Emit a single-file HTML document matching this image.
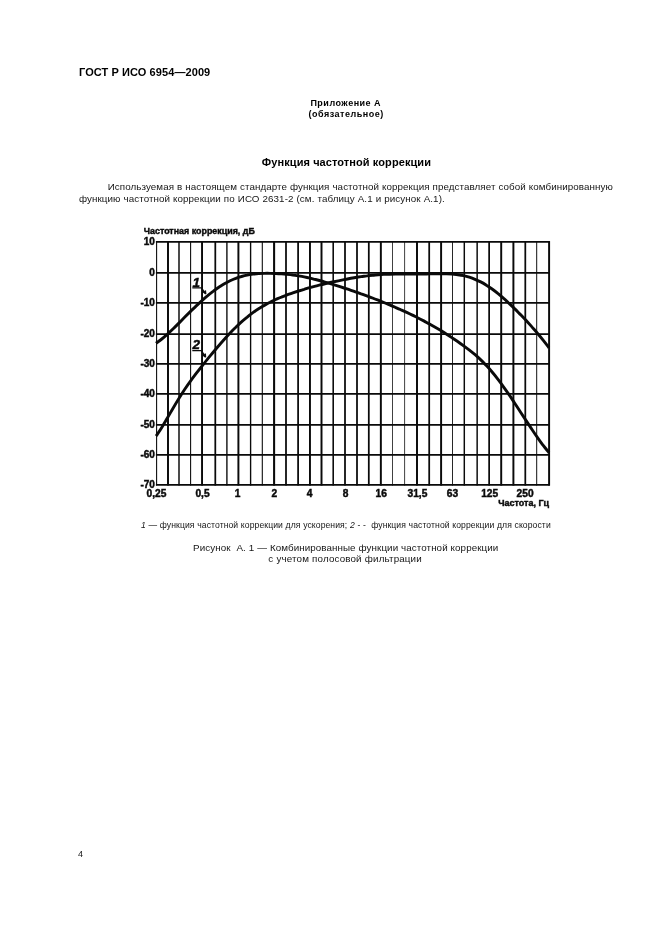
<!DOCTYPE html>
<html><head><meta charset="utf-8">
<style>
html,body{margin:0;padding:0;background:#fff;}
body{width:661px;height:936px;position:relative;overflow:hidden;font-family:"Liberation Sans",sans-serif;color:#151515;filter:grayscale(1);}
.t{position:absolute;white-space:nowrap;line-height:1;}
.b{font-weight:bold;color:#000;}
svg{position:absolute;left:0;top:0;}
</style></head><body>
<div class="t b" id="h1" style="left:79.00px;top:66.99px;font-size:11px;letter-spacing:0.085px;">ГОСТ Р ИСО 6954—2009</div>
<div class="t b" id="a1" style="left:310.40px;top:98.68px;font-size:9px;letter-spacing:0.5px;">Приложение А</div>
<div class="t b" id="a2" style="left:308.50px;top:109.58px;font-size:9px;letter-spacing:0.5px;">(обязательное)</div>
<div class="t b" id="ti" style="left:261.80px;top:157.49px;font-size:11px;letter-spacing:0.085px;">Функция частотной коррекции</div>
<div class="t" id="p1" style="left:107.70px;top:182.00px;font-size:9.8px;letter-spacing:0.08px;word-spacing:0.153px;">Используемая в настоящем стандарте функция частотной коррекция представляет собой комбинированную</div>
<div class="t" id="p2" style="left:79.00px;top:193.80px;font-size:9.8px;letter-spacing:0.07px;word-spacing:0.266px;">функцию частотной коррекции по ИСО 2631-2 (см. таблицу А.1 и рисунок А.1).</div>
<div class="t" id="lg" style="left:141.00px;top:521.22px;font-size:8.6px;letter-spacing:0.09px;word-spacing:0.142px;"><i>1</i> — функция частотной коррекции для ускорения; <i>2</i> - -&nbsp; функция частотной коррекции для скорости</div>
<div class="t" id="c1" style="left:193.10px;top:542.60px;font-size:9.8px;letter-spacing:0.08px;word-spacing:0.101px;">Рисунок&nbsp; А. 1 — Комбинированные функции частотной коррекции</div>
<div class="t" id="c2" style="left:268.30px;top:554.30px;font-size:9.8px;letter-spacing:0.15px;word-spacing:0.209px;">с учетом полосовой фильтрации</div>
<div class="t" id="pn" style="left:78.00px;top:850.38px;font-size:9px;letter-spacing:0px;">4</div>
<svg width="661" height="936" viewBox="0 0 661 936">
<g stroke="#0a0a0a" fill="none" stroke-linecap="butt">
<path d="M156.60 241.1V485.6" stroke-width="1.08"/>
<path d="M168.00 241.1V485.6" stroke-width="1.96"/>
<path d="M179.00 241.1V485.6" stroke-width="1.47"/>
<path d="M190.60 241.1V485.6" stroke-width="1.08"/>
<path d="M202.05 241.1V485.6" stroke-width="1.96"/>
<path d="M215.30 241.1V485.6" stroke-width="1.76"/>
<path d="M226.90 241.1V485.6" stroke-width="1.37"/>
<path d="M238.40 241.1V485.6" stroke-width="1.96"/>
<path d="M250.60 241.1V485.6" stroke-width="1.37"/>
<path d="M262.30 241.1V485.6" stroke-width="1.08"/>
<path d="M274.10 241.1V485.6" stroke-width="2.06"/>
<path d="M286.00 241.1V485.6" stroke-width="1.76"/>
<path d="M298.10 241.1V485.6" stroke-width="1.76"/>
<path d="M309.95 241.1V485.6" stroke-width="1.96"/>
<path d="M321.50 241.1V485.6" stroke-width="1.96"/>
<path d="M333.20 241.1V485.6" stroke-width="1.57"/>
<path d="M345.00 241.1V485.6" stroke-width="1.76"/>
<path d="M357.00 241.1V485.6" stroke-width="1.76"/>
<path d="M368.80 241.1V485.6" stroke-width="1.76"/>
<path d="M380.85 241.1V485.6" stroke-width="1.96"/>
<path d="M392.50 241.1V485.6" stroke-width="0.78"/>
<path d="M404.60 241.1V485.6" stroke-width="0.78"/>
<path d="M417.00 241.1V485.6" stroke-width="1.96"/>
<path d="M429.20 241.1V485.6" stroke-width="1.76"/>
<path d="M441.10 241.1V485.6" stroke-width="1.96"/>
<path d="M452.50 241.1V485.6" stroke-width="0.88"/>
<path d="M464.30 241.1V485.6" stroke-width="1.47"/>
<path d="M477.15 241.1V485.6" stroke-width="1.47"/>
<path d="M489.15 241.1V485.6" stroke-width="1.76"/>
<path d="M501.20 241.1V485.6" stroke-width="1.96"/>
<path d="M513.40 241.1V485.6" stroke-width="1.96"/>
<path d="M525.30 241.1V485.6" stroke-width="1.76"/>
<path d="M536.70 241.1V485.6" stroke-width="0.98"/>
<path d="M549.10 241.1V485.6" stroke-width="1.96"/>
<path d="M155.9 241.9H549.8M155.9 272.9H549.8M155.9 302.9H549.8M155.9 334.0H549.8M155.9 363.9H549.8M155.9 393.9H549.8M155.9 424.9H549.8M155.9 454.9H549.8M155.9 484.8H549.8" stroke-width="1.75"/>
<path d="M156.1 343.3C157.0 342.6 159.9 340.5 161.8 339.0C163.7 337.5 165.6 335.8 167.5 334.1C169.4 332.3 171.3 330.5 173.2 328.7C175.1 326.9 177.0 325.0 178.9 323.1C180.8 321.2 182.7 319.2 184.6 317.3C186.5 315.4 188.4 313.5 190.3 311.6C192.2 309.8 194.1 307.9 196.0 306.1C197.9 304.3 199.8 302.5 201.7 300.8C203.6 299.1 205.5 297.4 207.4 295.9C209.3 294.3 211.2 292.8 213.1 291.4C215.0 289.9 216.9 288.6 218.8 287.3C220.7 286.1 222.5 284.9 224.4 283.8C226.3 282.7 228.2 281.7 230.1 280.8C232.0 279.9 233.9 279.1 235.8 278.4C237.7 277.6 239.6 277.0 241.5 276.5C243.4 275.9 245.3 275.4 247.2 275.1C249.1 274.7 251.0 274.4 252.9 274.1C254.8 273.9 256.7 273.7 258.6 273.6C260.5 273.4 262.4 273.4 264.3 273.4C266.2 273.3 268.1 273.3 270.0 273.4C271.9 273.4 273.8 273.5 275.7 273.6C277.6 273.7 279.5 273.8 281.4 273.9C283.3 274.1 285.2 274.2 287.1 274.4C289.0 274.6 290.9 274.8 292.8 275.1C294.7 275.3 296.6 275.6 298.5 275.9C300.4 276.2 302.3 276.5 304.2 276.9C306.1 277.3 308.0 277.7 309.9 278.1C311.8 278.6 313.7 279.0 315.6 279.5C317.5 280.0 319.4 280.5 321.3 281.0C323.2 281.5 325.1 282.1 327.0 282.6C328.9 283.2 330.8 283.8 332.7 284.4C334.6 284.9 336.5 285.5 338.4 286.1C340.3 286.8 342.2 287.4 344.1 288.0C346.0 288.6 347.9 289.3 349.8 289.9C351.7 290.5 353.5 291.2 355.4 291.8C357.3 292.5 359.2 293.2 361.1 293.9C363.0 294.5 364.9 295.2 366.8 295.9C368.7 296.6 370.6 297.3 372.5 298.0C374.4 298.8 376.3 299.5 378.2 300.2C380.1 301.0 382.0 301.7 383.9 302.5C385.8 303.3 387.7 304.0 389.6 304.8C391.5 305.6 393.4 306.4 395.3 307.3C397.2 308.1 399.1 308.9 401.0 309.8C402.9 310.6 404.8 311.5 406.7 312.4C408.6 313.3 410.5 314.2 412.4 315.1C414.3 316.1 416.2 317.0 418.1 318.0C420.0 318.9 421.9 319.9 423.8 320.9C425.7 321.9 427.6 323.0 429.5 324.0C431.4 325.1 433.3 326.2 435.2 327.3C437.1 328.4 439.0 329.5 440.9 330.6C442.8 331.8 444.7 333.0 446.6 334.2C448.5 335.4 450.4 336.6 452.3 337.9C454.2 339.1 456.1 340.4 458.0 341.7C459.9 343.0 461.8 344.4 463.7 345.8C465.6 347.2 467.5 348.6 469.4 350.1C471.3 351.6 473.2 353.1 475.1 354.7C477.0 356.4 478.9 358.1 480.8 359.9C482.7 361.7 484.5 363.6 486.4 365.6C488.3 367.6 490.2 369.7 492.1 372.0C494.0 374.2 495.9 376.6 497.8 379.1C499.7 381.5 501.6 384.1 503.5 386.8C505.4 389.4 507.3 392.1 509.2 394.9C511.1 397.7 513.0 400.6 514.9 403.5C516.8 406.3 518.7 409.3 520.6 412.2C522.5 415.1 524.4 418.0 526.3 420.9C528.2 423.8 530.1 426.7 532.0 429.5C533.9 432.4 535.8 435.2 537.7 437.8C539.6 440.5 541.5 443.2 543.4 445.7C545.3 448.2 548.2 451.6 549.1 452.8" stroke-width="2.90"/>
<path d="M156.1 436.0C157.0 434.6 159.9 430.5 161.8 427.4C163.7 424.4 165.6 421.0 167.5 417.8C169.4 414.6 171.3 411.2 173.2 408.0C175.1 404.7 177.0 401.5 178.9 398.5C180.8 395.4 182.7 392.4 184.6 389.5C186.5 386.7 188.4 384.0 190.3 381.4C192.2 378.7 194.1 376.2 196.0 373.7C197.9 371.3 199.8 368.9 201.7 366.5C203.6 364.1 205.4 361.7 207.3 359.4C209.2 357.1 211.1 354.8 213.0 352.5C214.9 350.2 216.8 347.9 218.7 345.7C220.6 343.5 222.5 341.3 224.4 339.2C226.3 337.1 228.2 335.0 230.1 333.0C232.0 331.0 233.9 329.1 235.8 327.3C237.7 325.4 239.6 323.6 241.5 321.9C243.4 320.2 245.3 318.6 247.2 317.1C249.1 315.5 251.0 314.1 252.9 312.7C254.8 311.3 256.7 310.0 258.6 308.8C260.5 307.6 262.4 306.4 264.3 305.4C266.2 304.3 268.1 303.2 270.0 302.3C271.9 301.3 273.8 300.4 275.7 299.5C277.6 298.7 279.5 297.8 281.4 297.1C283.3 296.3 285.2 295.5 287.1 294.8C289.0 294.1 290.9 293.5 292.8 292.8C294.7 292.2 296.6 291.6 298.5 291.0C300.4 290.4 302.3 289.8 304.1 289.3C306.0 288.7 307.9 288.2 309.8 287.6C311.7 287.1 313.6 286.6 315.5 286.1C317.4 285.6 319.3 285.2 321.2 284.7C323.1 284.2 325.0 283.8 326.9 283.3C328.8 282.9 330.7 282.5 332.6 282.0C334.5 281.6 336.4 281.2 338.3 280.8C340.2 280.4 342.1 280.0 344.0 279.6C345.9 279.3 347.8 278.9 349.7 278.5C351.6 278.2 353.5 277.8 355.4 277.5C357.3 277.2 359.2 276.9 361.1 276.6C363.0 276.4 364.9 276.1 366.8 275.9C368.7 275.6 370.6 275.4 372.5 275.2C374.4 275.0 376.3 274.9 378.2 274.7C380.1 274.6 382.0 274.5 383.9 274.4C385.8 274.3 387.7 274.2 389.6 274.2C391.5 274.1 393.4 274.1 395.3 274.1C397.2 274.1 399.1 274.1 401.0 274.1C402.8 274.1 404.7 274.1 406.6 274.1C408.5 274.1 410.4 274.1 412.3 274.1C414.2 274.1 416.1 274.1 418.0 274.1C419.9 274.0 421.8 274.0 423.7 274.0C425.6 274.0 427.5 273.9 429.4 273.9C431.3 273.9 433.2 273.8 435.1 273.8C437.0 273.8 438.9 273.8 440.8 273.8C442.7 273.8 444.6 273.8 446.5 273.8C448.4 273.9 450.3 274.0 452.2 274.1C454.1 274.3 456.0 274.4 457.9 274.7C459.8 275.0 461.7 275.3 463.6 275.7C465.5 276.1 467.4 276.6 469.3 277.2C471.2 277.8 473.1 278.5 475.0 279.3C476.9 280.1 478.8 280.9 480.7 281.9C482.6 282.9 484.5 284.0 486.4 285.2C488.3 286.3 490.2 287.6 492.1 289.0C494.0 290.4 495.9 291.8 497.8 293.4C499.7 294.9 501.5 296.5 503.4 298.2C505.3 299.8 507.2 301.6 509.1 303.4C511.0 305.2 512.9 307.0 514.8 308.9C516.7 310.7 518.6 312.7 520.5 314.6C522.4 316.6 524.3 318.6 526.2 320.6C528.1 322.7 530.0 324.8 531.9 326.9C533.8 329.1 535.7 331.2 537.6 333.5C539.5 335.7 541.4 338.0 543.3 340.4C545.2 342.8 548.1 346.6 549.0 347.9" stroke-width="2.90"/>
<path d="M192.3 287.9H201.4L205.8 294M205.8 294L202.6 291.6M205.8 294L205.4 290.4" stroke-width="1.3"/>
<path d="M192.3 350.7H201.4L205.6 357.2M205.6 357.2L202.4 354.8M205.6 357.2L205.3 353.5" stroke-width="1.3"/>
</g>
<g font-family="Liberation Sans, sans-serif" font-weight="bold" font-size="9.5" fill="#0a0a0a" stroke="#0a0a0a" stroke-width="0.45">
<text x="154.9" y="245.0" text-anchor="end" font-size="10">10</text>
<text x="154.9" y="276.0" text-anchor="end" font-size="10">0</text>
<text x="154.9" y="306.0" text-anchor="end" font-size="10">-10</text>
<text x="154.9" y="337.1" text-anchor="end" font-size="10">-20</text>
<text x="154.9" y="367.0" text-anchor="end" font-size="10">-30</text>
<text x="154.9" y="397.0" text-anchor="end" font-size="10">-40</text>
<text x="154.9" y="428.0" text-anchor="end" font-size="10">-50</text>
<text x="154.9" y="458.0" text-anchor="end" font-size="10">-60</text>
<text x="154.9" y="487.9" text-anchor="end" font-size="10">-70</text>
<text x="156.4" y="496.8" text-anchor="middle" font-size="10.2">0,25</text>
<text x="202.5" y="496.8" text-anchor="middle" font-size="10.2">0,5</text>
<text x="237.7" y="496.8" text-anchor="middle" font-size="10.2">1</text>
<text x="274.3" y="496.8" text-anchor="middle" font-size="10.2">2</text>
<text x="309.5" y="496.8" text-anchor="middle" font-size="10.2">4</text>
<text x="345.7" y="496.8" text-anchor="middle" font-size="10.2">8</text>
<text x="381.2" y="496.8" text-anchor="middle" font-size="10.2">16</text>
<text x="417.4" y="496.8" text-anchor="middle" font-size="10.2">31,5</text>
<text x="452.4" y="496.8" text-anchor="middle" font-size="10.2">63</text>
<text x="489.7" y="496.8" text-anchor="middle" font-size="10.2">125</text>
<text x="525.1" y="496.8" text-anchor="middle" font-size="10.2">250</text>
<text x="143.8" y="234.2" font-size="9.8" textLength="111" lengthAdjust="spacingAndGlyphs">Частотная коррекция, дБ</text>
<text x="498.2" y="505.5" font-size="9.8" textLength="50.8" lengthAdjust="spacingAndGlyphs">Частота, Гц</text>
<text x="192.6" y="286.7" font-style="italic" font-size="13.5">1</text>
<text x="192.4" y="349.4" font-style="italic" font-size="13.5">2</text>
</g></svg>
</body></html>
